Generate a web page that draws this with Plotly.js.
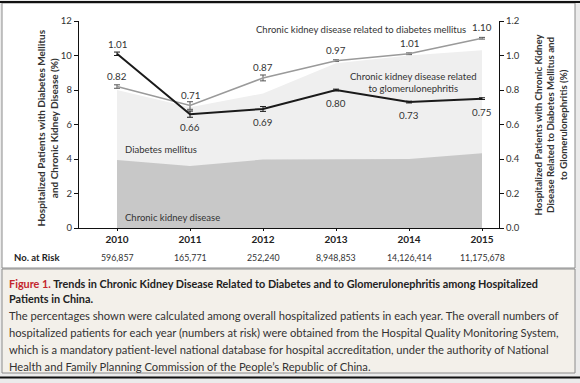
<!DOCTYPE html>
<html>
<head>
<meta charset="utf-8">
<script src="https://cdn.plot.ly/plotly-3.0.1.min.js"></script>
<style>html,body{margin:0;padding:0;background:#ebebeb;}#chart{width:580px;height:383px;}</style>
</head>
<body>
<div id="chart"></div>
<script>
// ---- data ----
const years = [2010, 2011, 2012, 2013, 2014, 2015];
const numbersAtRisk = ["596,857", "165,771", "252,240", "8,948,853", "14,126,414", "11,175,678"];
const diabetesMellitusPct = [8.0, 7.0, 7.8, 9.55, 10.0, 10.3];       // light area (left axis)
const chronicKidneyDiseasePct = [3.94, 3.6, 3.97, 4.0, 4.0, 4.33];    // dark area (left axis)
const ckdDiabetesPct = [0.82, 0.71, 0.87, 0.97, 1.01, 1.10];          // grey line (right axis)
const ckdDiabetesErr = [0.01, 0.022, 0.017, 0.005, 0.005, 0.005];
const ckdGlomerulonephritisPct = [1.01, 0.66, 0.69, 0.80, 0.73, 0.75]; // black line (right axis)
const ckdGlomerulonephritisErr = [0.01, 0.018, 0.014, 0.005, 0.005, 0.005];
const leftTicks = [0, 2, 4, 6, 8, 10, 12];
const rightTicks = [0, 0.2, 0.4, 0.6, 0.8, 1.0, 1.2];

// ---- geometry helpers (pixel -> paper) ----
const W = 580, H = 383;
const px = x => x / W;
const py = y => 1 - y / H;
const FONT = "Lato, 'Open Sans', sans-serif";

const traces = [
  {x: years, y: diabetesMellitusPct, type: 'scatter', mode: 'lines', fill: 'tozeroy',
   fillcolor: '#efefef', line: {width: 0, color: '#efefef'}, hoverinfo: 'skip', yaxis: 'y'},
  {x: years, y: chronicKidneyDiseasePct, type: 'scatter', mode: 'lines', fill: 'tozeroy',
   fillcolor: '#c8c8c8', line: {width: 0, color: '#c8c8c8'}, hoverinfo: 'skip', yaxis: 'y'},
  {x: years, y: ckdDiabetesPct, type: 'scatter', mode: 'lines', yaxis: 'y2',
   line: {color: '#9a9a9a', width: 1.6},
   error_y: {type: 'data', array: ckdDiabetesErr, visible: true, color: '#555', thickness: 1, width: 3}},
  {x: years, y: ckdGlomerulonephritisPct, type: 'scatter', mode: 'lines', yaxis: 'y2',
   line: {color: '#1a1a1a', width: 2},
   error_y: {type: 'data', array: ckdGlomerulonephritisErr, visible: true, color: '#1a1a1a', thickness: 1, width: 3}}
];

const annotations = [];
const base = {showarrow: false, xanchor: 'center', yanchor: 'middle'};
// value labels
ckdDiabetesPct.forEach((v, i) => annotations.push(Object.assign({}, base, {
  x: years[i], y: v, xref: 'x', yref: 'y2', text: v.toFixed(2),
  yshift: 11, font: {family: FONT, size: 9.8, color: '#333'}
})));
ckdGlomerulonephritisPct.forEach((v, i) => annotations.push(Object.assign({}, base, {
  x: years[i], y: v, xref: 'x', yref: 'y2', text: v.toFixed(2),
  yshift: i === 0 ? 10 : -13, font: {family: FONT, size: 9.8, color: '#333'}
})));
// numbers at risk
numbersAtRisk.forEach((n, i) => annotations.push(Object.assign({}, base, {
  x: years[i], y: py(257), xref: 'x', yref: 'paper', text: n,
  font: {family: FONT, size: 8.8, color: '#333'}
})));
annotations.push(Object.assign({}, base, {x: px(12), y: py(257), xref: 'paper', yref: 'paper', xanchor: 'left',
  text: '<b>No. at Risk</b>', font: {family: FONT, size: 9.5, color: '#222'}}));
// series labels
const lab = (x, y, t, anchor) => annotations.push(Object.assign({}, base, {x: px(x), y: py(y), xref: 'paper', yref: 'paper',
  xanchor: anchor || 'center', text: t, font: {family: FONT, size: 9.5, color: '#333'}}));
lab(361, 30, 'Chronic kidney disease related to diabetes mellitus');
lab(413, 82.5, 'Chronic kidney disease related<br>to glomerulonephritis');
lab(123, 149, 'Diabetes mellitus', 'left');
lab(123, 218, 'Chronic kidney disease', 'left');
// axis titles
annotations.push(Object.assign({}, base, {x: px(46.5), y: py(128), xref: 'paper', yref: 'paper', textangle: -90,
  text: '<b>Hospitalized Patients with Diabetes Mellitus<br>and Chronic Kidney Disease (%)</b>',
  font: {family: FONT, size: 10, color: '#333'}}));
annotations.push(Object.assign({}, base, {x: px(550), y: py(124.5), xref: 'paper', yref: 'paper', textangle: -90,
  text: '<b>Hospitalized Patients with Chronic Kidney<br>Disease Related to Diabetes Mellitus and<br>to Glomerulonephritis (%)</b>',
  font: {family: FONT, size: 9.7, color: '#333'}}));
// caption
const cap = (y, t, size, color) => annotations.push(Object.assign({}, base, {x: px(7), y: py(y), xref: 'paper', yref: 'paper',
  xanchor: 'left', text: t, font: {family: FONT, size: size, color: color || '#222'}}));
cap(283, '<b><span style="color:#c4262e">Figure 1.</span> Trends in Chronic Kidney Disease Related to Diabetes and to Glomerulonephritis among Hospitalized</b>', 10.85);
cap(298, '<b>Patients in China.</b>', 10.85);
cap(315, 'The percentages shown were calculated among overall hospitalized patients in each year. The overall numbers of', 11.2, '#333');
cap(332, 'hospitalized patients for each year (numbers at risk) were obtained from the Hospital Quality Monitoring System,', 11.2, '#333');
cap(349, 'which is a mandatory patient-level national database for hospital accreditation, under the authority of National', 11.2, '#333');
cap(366, 'Health and Family Planning Commission of the People\u2019s Republic of China.', 11.2, '#333');

const shapes = [
  {type: 'rect', xref: 'paper', yref: 'paper', x0: px(2), x1: px(575), y0: py(268), y1: py(3),
   fillcolor: '#ffffff', line: {color: '#8c8c8c', width: 1}, layer: 'below'},
  {type: 'rect', xref: 'paper', yref: 'paper', x0: px(2), x1: px(575), y0: py(373), y1: py(269),
   fillcolor: '#f3f0ea', line: {color: '#8c8c8c', width: 1}, layer: 'below'},
  {type: 'line', xref: 'paper', yref: 'paper', x0: 0, x1: 1, y0: py(2), y1: py(2),
   line: {color: '#111', width: 2}, layer: 'below'},
  {type: 'line', xref: 'paper', yref: 'paper', x0: 0, x1: 1, y0: py(377.5), y1: py(377.5),
   line: {color: '#111', width: 2}, layer: 'below'}
];

const layout = {
  width: W, height: H,
  margin: {l: 0, r: 0, t: 0, b: 0, pad: 0},
  paper_bgcolor: '#ebebeb', plot_bgcolor: 'rgba(0,0,0,0)',
  showlegend: false,
  font: {family: FONT, color: '#333'},
  xaxis: {
    domain: [px(79), px(499)],
    range: [2010 - 38 / 73, 2015 + 17 / 73],
    tickvals: years, ticktext: years.map(y => '<b>' + y + '</b>'),
    ticks: 'outside', ticklen: 2, tickcolor: '#111',
    showline: true, linecolor: '#111', linewidth: 1.2,
    showgrid: false, zeroline: false,
    tickfont: {family: FONT, size: 10, color: '#222'}, fixedrange: true
  },
  yaxis: {
    domain: [py(228), py(21)],
    range: [0, 12], tickvals: leftTicks,
    ticks: 'outside', ticklen: 4, tickcolor: '#111',
    showline: true, linecolor: '#111', linewidth: 1.2,
    showgrid: false, zeroline: false,
    tickfont: {family: FONT, size: 9.5, color: '#333'}, fixedrange: true
  },
  yaxis2: {
    overlaying: 'y', side: 'right', anchor: 'x',
    range: [0, 1.2], tickvals: rightTicks, tickformat: '.1f',
    ticks: 'outside', ticklen: 4, tickcolor: '#111',
    showline: true, linecolor: '#111', linewidth: 1.2,
    showgrid: false, zeroline: false,
    tickfont: {family: FONT, size: 9.5, color: '#333'}, fixedrange: true
  },
  annotations: annotations,
  shapes: shapes
};

Plotly.newPlot('chart', traces, layout, {staticPlot: true, displayModeBar: false});
</script>
</body>
</html>
